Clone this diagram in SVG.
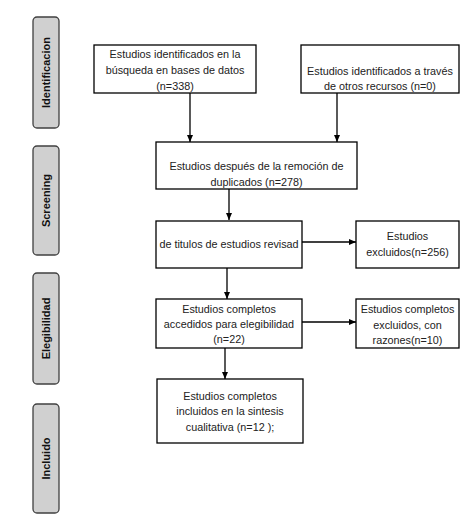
<svg xmlns="http://www.w3.org/2000/svg" width="473" height="524" viewBox="0 0 473 524">
<defs>
<style>
.box{fill:#fff;stroke:#000;stroke-width:1.3}
.side{fill:#d0d0d0;stroke:#404040;stroke-width:1.3}
.t{font-family:"Liberation Sans",Arial,sans-serif;font-size:10.8px;fill:#222;text-anchor:middle}
.s{font-family:"Liberation Sans",Arial,sans-serif;font-size:11px;font-weight:bold;fill:#111;text-anchor:middle}
.c{stroke:#000;stroke-width:1.3;fill:none;marker-end:url(#ah)}
</style>
<marker id="ah" markerWidth="8" markerHeight="8" refX="7" refY="4" orient="auto" markerUnits="userSpaceOnUse">
<path d="M0,1 L7,4 L0,7 Z" fill="#000"/>
</marker>
</defs>
<rect width="473" height="524" fill="#fff"/>
<g id="side-identificacion"><rect class="side" x="33" y="17" width="26" height="111" rx="4"/><text class="s" transform="translate(50,72.5) rotate(-90)">Identificacion</text></g>
<g id="side-screening"><rect class="side" x="33" y="146" width="26" height="109" rx="4"/><text class="s" transform="translate(50,200.5) rotate(-90)">Screening</text></g>
<g id="side-elegibilidad"><rect class="side" x="33" y="273" width="26" height="111" rx="4"/><text class="s" transform="translate(50,328.5) rotate(-90)">Elegibilidad</text></g>
<g id="side-incluido"><rect class="side" x="33" y="404" width="26" height="109" rx="4"/><text class="s" transform="translate(50,458.5) rotate(-90)">Incluido</text></g>

<g id="connectors">
<line class="c" x1="190" y1="93" x2="190" y2="142"/>
<line class="c" x1="337" y1="93" x2="337" y2="142"/>
<line class="c" x1="229" y1="189" x2="229" y2="220"/>
<line class="c" x1="227" y1="268" x2="227" y2="299"/>
<line class="c" x1="225" y1="348" x2="225" y2="379"/>
<line class="c" x1="302" y1="242" x2="356" y2="242"/>
<line class="c" x1="302" y1="322" x2="356" y2="322"/>
</g>

<g id="n1"><rect class="box" x="94" y="45" width="162" height="48"/>
<text class="t" x="175" y="58">Estudios identificados en la</text>
<text class="t" x="175" y="74">búsqueda en bases de datos</text>
<text class="t" x="175" y="90">(n=338)</text></g>
<g id="n2"><rect class="box" x="301" y="45" width="158" height="48"/>
<text class="t" x="380" y="75">Estudios identificados a través</text>
<text class="t" x="380" y="90">de otros recursos (n=0)</text></g>
<g id="n3"><rect class="box" x="156" y="142" width="201" height="47"/>
<text class="t" x="256.5" y="170">Estudios después de la remoción de</text>
<text class="t" x="256.5" y="186">duplicados (n=278)</text></g>
<g id="n4"><rect class="box" x="156" y="221" width="146" height="47"/>
<text class="t" x="229" y="248">de titulos de estudios revisad</text></g>
<g id="n5"><rect class="box" x="356" y="221" width="103" height="47"/>
<text class="t" x="407.5" y="240">Estudios</text>
<text class="t" x="407.5" y="256">excluidos(n=256)</text></g>
<g id="n6"><rect class="box" x="156" y="299" width="146" height="49"/>
<text class="t" x="229" y="313">Estudios completos</text>
<text class="t" x="229" y="328">accedidos para elegibilidad</text>
<text class="t" x="229" y="343">(n=22)</text></g>
<g id="n7"><rect class="box" x="356" y="299" width="103" height="49"/>
<text class="t" x="407.5" y="313">Estudios completos</text>
<text class="t" x="407.5" y="329">excluidos, con</text>
<text class="t" x="407.5" y="344">razones(n=10)</text></g>
<g id="n8"><rect class="box" x="157" y="379" width="146" height="64"/>
<text class="t" x="230" y="400">Estudios completos</text>
<text class="t" x="230" y="415">incluidos en la sintesis</text>
<text class="t" x="230" y="431">cualitativa (n=12 );</text></g>
</svg>
